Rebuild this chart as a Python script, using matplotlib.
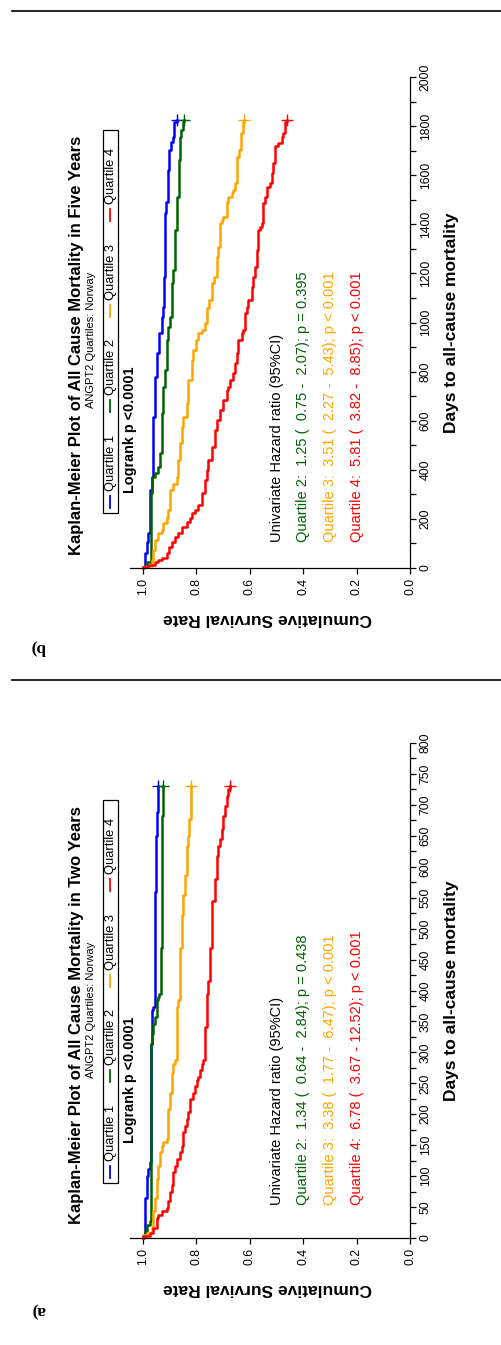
import matplotlib

matplotlib.use("Agg")

import matplotlib.pyplot as plt
import numpy as np
from matplotlib.lines import Line2D
from matplotlib.patches import Rectangle

FIG_W, FIG_H = 502, 1345
DPI = 100

plt.rcParams["font.family"] = ["Liberation Sans", "DejaVu Sans"]

QUARTILES = ["Quartile 1", "Quartile 2", "Quartile 3", "Quartile 4"]
COLORS = ["#0000ff", "#006400", "#ffa500", "#ff0000"]
SURV_TICKS = [1.0, 0.8, 0.6, 0.4, 0.2, 0.0]

# ---- panel b: five years -------------------------------------------------
FIVE_END_DAY = 1826
FIVE_DAY_TICKS = list(range(0, 2001, 100))
FIVE_Q1_DAYS = [0, 5, 60, 107, 141, 318, 372, 616, 779, 874, 956, 1024, 1064,
                1187, 1445, 1492, 1621, 1703, 1737, 1757, 1815]
FIVE_Q1_SURV = [1.0, 0.993, 0.986, 0.980, 0.974, 0.965, 0.961, 0.955, 0.949,
                0.940, 0.930, 0.926, 0.920, 0.918, 0.915, 0.908, 0.901, 0.896,
                0.889, 0.883, 0.874]
FIVE_Q2_DAYS = [0, 5, 25, 304, 372, 386, 413, 467, 630, 739, 807, 929, 983,
                1024, 1160, 1214, 1377, 1513, 1662, 1757, 1784, 1818]
FIVE_Q2_SURV = [1.0, 0.986, 0.971, 0.965, 0.955, 0.945, 0.936, 0.930, 0.924,
                0.918, 0.911, 0.905, 0.899, 0.893, 0.886, 0.880, 0.871, 0.865,
                0.861, 0.858, 0.851, 0.845]
FIVE_Q3_DAYS = [0, 5, 10, 33, 73, 114, 141, 155, 182, 209, 236, 318, 344, 372,
                440, 508, 576, 616, 671, 766, 847, 888, 929, 956, 970, 997, 1010,
                1058, 1092, 1160, 1187, 1268, 1309, 1404, 1417, 1431, 1492, 1513,
                1526, 1540, 1567, 1676, 1703, 1771, 1815]
FIVE_Q3_SURV = [1.0, 0.986, 0.967, 0.961, 0.955, 0.943, 0.930, 0.924, 0.911,
                0.905, 0.899, 0.886, 0.874, 0.868, 0.861, 0.855, 0.849, 0.836,
                0.830, 0.818, 0.812, 0.801, 0.793, 0.780, 0.768, 0.762, 0.759,
                0.752, 0.743, 0.734, 0.724, 0.718, 0.712, 0.705, 0.699, 0.687,
                0.680, 0.668, 0.662, 0.655, 0.647, 0.640, 0.634, 0.627, 0.620]
FIVE_Q4_DAYS = [0, 3, 12, 26, 33, 39, 60, 87, 107, 128, 141, 168, 189, 202, 223,
                236, 257, 304, 359, 399, 440, 494, 562, 603, 644, 684, 725, 739,
                766, 793, 834, 874, 929, 956, 970, 1037, 1064, 1092, 1146, 1187,
                1228, 1296, 1377, 1390, 1404, 1485, 1513, 1553, 1567, 1608, 1649,
                1717, 1730, 1757, 1771, 1818]
FIVE_Q4_SURV = [1.0, 0.980, 0.955, 0.943, 0.930, 0.911, 0.901, 0.893, 0.880,
                0.868, 0.855, 0.836, 0.824, 0.818, 0.805, 0.793, 0.780, 0.768,
                0.762, 0.755, 0.743, 0.730, 0.724, 0.712, 0.699, 0.687, 0.680,
                0.674, 0.662, 0.655, 0.649, 0.643, 0.630, 0.624, 0.618, 0.612,
                0.606, 0.593, 0.587, 0.581, 0.574, 0.568, 0.562, 0.556, 0.549,
                0.543, 0.537, 0.524, 0.518, 0.512, 0.506, 0.493, 0.481, 0.474,
                0.468, 0.462]
FIVE_HR_ROWS = [
    "Quartile 2:  1.25 (  0.75 -  2.07); p = 0.395",
    "Quartile 3:  3.51 (  2.27 -  5.43); p < 0.001",
    "Quartile 4:  5.81 (  3.82 -  8.85); p < 0.001",
]

# ---- panel a: two years --------------------------------------------------
TWO_END_DAY = 730
TWO_DAY_TICKS = list(range(0, 801, 25))
TWO_Q1_DAYS = [0, 3, 16, 64, 101, 112, 123, 314, 368, 373, 560, 650, 688]
TWO_Q1_SURV = [1.0, 0.994, 0.992, 0.986, 0.980, 0.974, 0.970, 0.965, 0.961,
               0.955, 0.953, 0.949, 0.943]
TWO_Q2_DAYS = [0, 3, 11, 21, 27, 314, 330, 346, 357, 384, 389, 394, 469, 512, 682]
TWO_Q2_SURV = [1.0, 0.992, 0.986, 0.974, 0.970, 0.965, 0.961, 0.955, 0.949,
               0.945, 0.939, 0.934, 0.930, 0.928, 0.924]
TWO_Q3_DAYS = [0, 5, 8, 16, 43, 64, 96, 117, 139, 149, 155, 160, 208, 235, 267,
               282, 288, 373, 384, 469, 522, 554, 586, 634, 650, 677]
TWO_Q3_SURV = [1.0, 0.986, 0.967, 0.961, 0.955, 0.949, 0.943, 0.936, 0.930,
               0.924, 0.911, 0.905, 0.899, 0.893, 0.886, 0.880, 0.874, 0.868,
               0.861, 0.855, 0.849, 0.843, 0.836, 0.830, 0.826, 0.821]
TWO_Q4_DAYS = [0, 3, 8, 16, 32, 37, 43, 48, 59, 75, 85, 107, 117, 128, 139, 149,
               171, 181, 192, 203, 224, 235, 245, 256, 261, 272, 282, 288, 341,
               352, 394, 416, 469, 544, 581, 618, 634, 645, 661, 682, 698, 714, 725]
TWO_Q4_SURV = [1.0, 0.974, 0.961, 0.949, 0.943, 0.930, 0.911, 0.905, 0.899,
               0.893, 0.886, 0.880, 0.874, 0.861, 0.855, 0.849, 0.843, 0.836,
               0.830, 0.824, 0.811, 0.805, 0.799, 0.793, 0.787, 0.780, 0.774,
               0.768, 0.762, 0.759, 0.755, 0.749, 0.743, 0.730, 0.724, 0.718,
               0.712, 0.705, 0.699, 0.693, 0.687, 0.680, 0.674]
TWO_HR_ROWS = [
    "Quartile 2:  1.34 (  0.64 -  2.84); p = 0.438",
    "Quartile 3:  3.38 (  1.77 -  6.47); p < 0.001",
    "Quartile 4:  6.78 (  3.67 - 12.52); p < 0.001",
]


def px_rect(left, top, right, bottom):
    return [left / FIG_W, 1 - bottom / FIG_H, (right - left) / FIG_W,
            (bottom - top) / FIG_H]


def put_text(fig, x, y, text, **kw):
    fig.text(x / FIG_W, 1 - y / FIG_H, text, **kw)


def km_path(days, surv, end_day):
    d = np.asarray(days, dtype=float)
    s = np.asarray(surv, dtype=float)
    ys = np.append(np.repeat(d, 2)[1:], end_day)
    xs = np.repeat(s, 2)
    return xs, ys


def draw_legend(fig, dy):
    top, bottom = 130 + dy, 513 + dy
    fig.add_artist(Rectangle((103 / FIG_W, 1 - bottom / FIG_H), 15 / FIG_W,
                             (bottom - top) / FIG_H, transform=fig.transFigure,
                             fill=False, lw=0.9, ec="black"))
    pitch = (bottom - top) / 4
    for i, (name, color) in enumerate(zip(QUARTILES, COLORS)):
        start = bottom - 5 - i * pitch
        fig.add_artist(Line2D([110.5 / FIG_W] * 2,
                              [1 - start / FIG_H, 1 - (start - 12) / FIG_H],
                              transform=fig.transFigure, color=color, lw=1.3))
        put_text(fig, 111, start - 17, name, rotation=90, ha="center",
                 va="bottom", fontsize=9.3)


def draw_panel(fig, dy, ax_top, ax_bottom, day_ticks, curves, end_day, title,
               hr_rows, logrank_bottom, hr_bottom, letter, letter_y):
    ax = fig.add_axes(px_rect(130, ax_top, 410, ax_bottom))
    for (days, surv), color in zip(curves, COLORS):
        xs, ys = km_path(days, surv, end_day)
        ax.plot(xs, ys, color=color, lw=1.8, clip_on=False)
        ax.plot(surv[-1], end_day, marker="+", ms=8, mew=1.0, color=color,
                clip_on=False)

    ax.set_xlim(1.0487, 0)
    ax.set_ylim(0, day_ticks[-1])
    ax.spines[["left", "top"]].set_visible(False)
    for side in ("bottom", "right"):
        ax.spines[side].set_linewidth(0.9)
    ax.yaxis.tick_right()
    ax.set_xticks(SURV_TICKS)
    ax.set_xticklabels([f"{t:.1f}" for t in SURV_TICKS], rotation=90)
    step = day_ticks[1] - day_ticks[0]
    ax.set_yticks(day_ticks)
    ax.set_yticklabels([str(t) if t % (2 * step) == 0 else "" for t in day_ticks],
                       rotation=90, va="center")
    ax.tick_params(direction="out", length=4, width=0.9, labelsize=8.8, pad=3)

    mid = (ax_top + ax_bottom) / 2
    put_text(fig, 452, mid, "Days to all-cause mortality", rotation=90,
             ha="center", va="center", fontsize=12.5, fontweight="bold")
    put_text(fig, 268, 618 + dy, "Cumulative Survival Rate", rotation=180,
             ha="center", va="center", fontsize=12.5, fontweight="bold")
    put_text(fig, 77, 345 + dy, title, rotation=90, ha="center", va="center",
             fontsize=12, fontweight="bold")
    put_text(fig, 91, 340 + dy, "ANGPT2 Quartiles: Norway", rotation=90,
             ha="center", va="center", fontsize=8)
    draw_legend(fig, dy)
    put_text(fig, 130, logrank_bottom, "Logrank p <0.0001", rotation=90,
             ha="center", va="bottom", fontsize=10.4, fontweight="bold")
    put_text(fig, 277, hr_bottom, "Univariate Hazard ratio (95%CI)",
             rotation=90, ha="center", va="bottom", fontsize=10.5)
    for i, row in enumerate(hr_rows):
        put_text(fig, 303 + i * 27, hr_bottom, row, rotation=90, ha="center",
                 va="bottom", fontsize=10.5, color=COLORS[i + 1])
    put_text(fig, 38, letter_y, letter, rotation=180, ha="center", va="center",
             fontsize=12.5, fontweight="bold",
             family=["Liberation Serif", "DejaVu Serif"])


def main():
    fig = plt.figure(figsize=(FIG_W / DPI, FIG_H / DPI), dpi=DPI)

    for y in (11, 680):
        fig.add_artist(Line2D([12 / FIG_W, 1.0], [1 - y / FIG_H] * 2,
                              transform=fig.transFigure, color="black", lw=1.2))

    five_curves = [(FIVE_Q1_DAYS, FIVE_Q1_SURV), (FIVE_Q2_DAYS, FIVE_Q2_SURV),
                   (FIVE_Q3_DAYS, FIVE_Q3_SURV), (FIVE_Q4_DAYS, FIVE_Q4_SURV)]
    two_curves = [(TWO_Q1_DAYS, TWO_Q1_SURV), (TWO_Q2_DAYS, TWO_Q2_SURV),
                  (TWO_Q3_DAYS, TWO_Q3_SURV), (TWO_Q4_DAYS, TWO_Q4_SURV)]

    draw_panel(fig, 0, 77, 568, FIVE_DAY_TICKS, five_curves, FIVE_END_DAY,
               "Kaplan-Meier Plot of All Cause Mortality in Five Years",
               FIVE_HR_ROWS, 493, 542, "b)", 648)
    draw_panel(fig, 670, 743, 1238, TWO_DAY_TICKS, two_curves, TWO_END_DAY,
               "Kaplan-Meier Plot of All Cause Mortality in Two Years",
               TWO_HR_ROWS, 1143, 1205, "a)", 1310)

    fig.savefig("out.png", dpi=DPI)
    plt.close(fig)


if __name__ == "__main__":
    main()
